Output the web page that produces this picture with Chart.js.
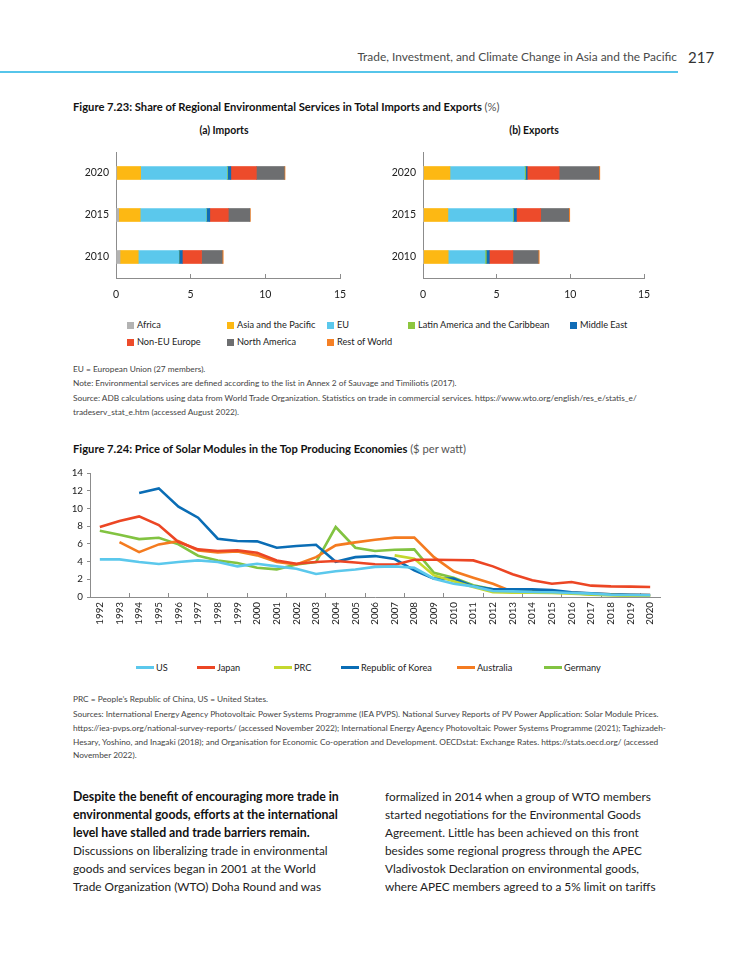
<!DOCTYPE html>
<html>
<head>
  <meta charset="UTF-8">
  <title>Trade, Investment, and Climate Change in Asia and the Pacific - page 217</title>
  <script src="https://cdn.jsdelivr.net/npm/chart.js"></script>
  <style>
    body { margin: 0; width: 750px; height: 971px; position: relative; background: #fff;
           font-family: Lato, "Open Sans", sans-serif; color: #222; overflow: hidden; }
    .abs { position: absolute; white-space: nowrap; }
    .runhead { right: 73px; top: 48px; font-size: 11.9px; color: #4a4a4a; line-height: 18px; }
    .pageno { left: 688px; top: 47px; font-size: 15px; color: #333; line-height: 20px; }
    .rule { position: absolute; left: 0; top: 71px; width: 678px; height: 2px; background: #56c5ea; }
    .figtitle { left: 73px; font-size: 11.2px; font-weight: bold; color: #111; line-height: 14px; }
    .figtitle span { font-weight: normal; color: #555; }
    .panel { font-size: 10.4px; font-weight: bold; color: #111; line-height: 12px; transform: translateX(-50%); }
    .box { position: absolute; }
    .leg { font-size: 9.2px; color: #222; line-height: 12px; }
    .leg i { display: inline-block; width: 7px; height: 7px; margin-right: 3px; vertical-align: -0.5px; }
    .leg b { display: inline-block; width: 18px; height: 2.5px; margin-right: 2px; vertical-align: 2.5px; }
    .note { left: 73px; font-size: 8.3px; color: #444; line-height: 13.8px; }
    .body { font-size: 11.8px; line-height: 18px; color: #222; }
    .body .bold { font-weight: bold; color: #111; font-size: 12.3px; }
  </style>
</head>
<body>
  <div class="abs runhead">Trade, Investment, and Climate Change in Asia and the Pacific</div>
  <div class="abs pageno">217</div>
  <div class="rule"></div>

  <!-- Figure 7.23 -->
  <div class="abs figtitle" style="top:100px">Figure 7.23: Share of Regional Environmental Services in Total Imports and Exports <span>(%)</span></div>
  <div class="abs panel" style="left:224px; top:124px">(a) Imports</div>
  <div class="abs panel" style="left:534px; top:124px">(b) Exports</div>
  <div class="box" style="left:70px; top:145px"><canvas id="chartImports" width="280" height="163"></canvas></div>
  <div class="box" style="left:377px; top:145px"><canvas id="chartExports" width="277" height="163"></canvas></div>
  <div id="barLegend"></div>

  <div class="abs note" style="top:363px">EU = European Union (27 members).</div>
  <div class="abs note" style="top:377px">Note: Environmental services are defined according to the list in Annex 2 of Sauvage and Timiliotis (2017).</div>
  <div class="abs note" style="top:392px">Source: ADB calculations using data from World Trade Organization. Statistics on trade in commercial services. https://www.wto.org/english/res_e/statis_e/<br>tradeserv_stat_e.htm (accessed August 2022).</div>

  <!-- Figure 7.24 -->
  <div class="abs figtitle" style="top:442px">Figure 7.24: Price of Solar Modules in the Top Producing Economies <span>($ per watt)</span></div>
  <div class="box" style="left:60px; top:465px"><canvas id="chartSolar" width="610" height="175"></canvas></div>
  <div id="lineLegend"></div>

  <div class="abs note" style="top:693px">PRC = People’s Republic of China, US = United States.</div>
  <div class="abs note" style="top:708px">Sources: International Energy Agency Photovoltaic Power Systems Programme (IEA PVPS). National Survey Reports of PV Power Application: Solar Module Prices.<br>https://iea-pvps.org/national-survey-reports/ (accessed November 2022); International Energy Agency Photovoltaic Power Systems Programme (2021); Taghizadeh-<br>Hesary, Yoshino, and Inagaki (2018); and Organisation for Economic Co-operation and Development. OECDstat: Exchange Rates. https://stats.oecd.org/ (accessed<br>November 2022).</div>

  <!-- body text -->
  <div class="abs body" style="left:73px; top:788px">
    <div class="bold">Despite the benefit of encouraging more trade in</div>
    <div class="bold">environmental goods, efforts at the international</div>
    <div class="bold">level have stalled and trade barriers remain.</div>
    <div>Discussions on liberalizing trade in environmental</div>
    <div>goods and services began in 2001 at the World</div>
    <div>Trade Organization (WTO) Doha Round and was</div>
  </div>
  <div class="abs body" style="left:385px; top:788px">
    <div>formalized in 2014 when a group of WTO members</div>
    <div>started negotiations for the Environmental Goods</div>
    <div>Agreement. Little has been achieved on this front</div>
    <div>besides some regional progress through the APEC</div>
    <div>Vladivostok Declaration on environmental goods,</div>
    <div>where APEC members agreed to a 5% limit on tariffs</div>
  </div>

  <script>
    // ---- Figure 7.23 data (% share), bars top to bottom
    var barYears = ["2020", "2015", "2010"];
    var regionNames = ["Africa", "Asia and the Pacific", "EU", "Latin America and the Caribbean",
                       "Middle East", "Non-EU Europe", "North America", "Rest of World"];
    var regionColors = ["#b3b3b3", "#fdb813", "#5bc8ec", "#8dc63f", "#0f6cb6", "#ed4b2b", "#6d6e70", "#f58025"];

    var impAfrica   = [0.05, 0.18, 0.27];
    var impAsia     = [1.60, 1.44, 1.22];
    var impEU       = [5.78, 4.42, 2.71];
    var impLatAm    = [0.04, 0.02, 0.02];
    var impMidEast  = [0.22, 0.22, 0.22];
    var impNonEU    = [1.71, 1.24, 1.29];
    var impNorthAm  = [1.87, 1.44, 1.38];
    var impRest     = [0.05, 0.04, 0.07];

    var expAfrica   = [0.02, 0.02, 0.02];
    var expAsia     = [1.81, 1.67, 1.69];
    var expEU       = [5.06, 4.40, 2.50];
    var expLatAm    = [0.07, 0.05, 0.09];
    var expMidEast  = [0.11, 0.20, 0.20];
    var expNonEU    = [2.17, 1.65, 1.60];
    var expNorthAm  = [2.69, 1.90, 1.72];
    var expRest     = [0.07, 0.07, 0.07];

    var barTicks = [0, 5, 10, 15];

    // ---- Figure 7.24 data ($ per watt)
    var years = ["1992","1993","1994","1995","1996","1997","1998","1999","2000","2001",
                 "2002","2003","2004","2005","2006","2007","2008","2009","2010","2011",
                 "2012","2013","2014","2015","2016","2017","2018","2019","2020"];
    var priceUS = [4.25,4.25,3.95,3.72,3.95,4.13,3.95,3.46,3.76,3.46,3.2,2.6,2.9,3.1,3.4,3.46,3.3,2.07,1.5,1.2,0.68,0.64,0.56,0.53,0.45,0.38,0.26,0.23,0.19];
    var priceJapan = [7.9,8.57,9.1,8.12,6.2,5.38,5.19,5.26,5.0,4.13,3.76,3.95,4.06,3.9,3.7,3.65,4.2,4.2,4.17,4.13,3.46,2.56,1.88,1.5,1.7,1.28,1.2,1.17,1.13];
    var pricePRC = [null,null,null,null,null,null,null,null,null,null,null,null,null,null,null,4.7,4.32,2.44,1.77,1.13,0.53,0.49,0.49,0.45,0.38,0.3,0.23,0.15,0.11];
    var priceKorea = [null,null,11.73,12.26,10.2,8.95,6.58,6.32,6.28,5.56,5.75,5.9,3.98,4.5,4.62,4.29,3.0,2.07,2.07,1.2,0.86,0.86,0.86,0.79,0.53,0.41,0.3,0.26,0.22];
    var priceAustralia = [null,6.2,5.07,5.94,6.3,5.26,5.04,5.15,4.7,3.95,3.68,4.5,5.83,6.17,6.47,6.7,6.7,4.5,2.9,2.18,1.5,0.6,0.56,0.53,0.5,0.38,0.3,0.26,0.23];
    var priceGermany = [7.48,7.03,6.54,6.69,5.94,4.66,4.13,3.83,3.3,3.12,3.68,3.95,7.9,5.56,5.19,5.34,5.38,2.74,2.18,1.32,0.86,0.75,0.68,0.56,0.45,0.26,0.19,0.15,0.11];
    var seriesNames = ["US", "Japan", "PRC", "Republic of Korea", "Australia", "Germany"];
    var seriesColors = ["#5bc8ec", "#ec4624", "#c4d82e", "#0a6db5", "#f47b20", "#82c341"];

    Chart.defaults.font.family = "Lato, 'Open Sans', sans-serif";
    Chart.defaults.color = "#222";

    var axisGray = "#8c8c8c";

    // bỏ phần đệm tự động của nhãn trục để vùng vẽ đúng kích thước
    function noPadX(h) {
      return function (s) { s.height = h; s.paddingLeft = 0; s.paddingRight = 0; };
    }
    function noPadY(w) {
      return function (s) { s.width = w; s.paddingTop = 0; s.paddingBottom = 0; };
    }

    // Tạo biểu đồ thanh chồng (imports / exports)
    function makeBarChart(id, series) {
      var datasets = series.map(function (vals, i) {
        return { label: regionNames[i], data: vals, backgroundColor: regionColors[i],
                 borderWidth: 0, barThickness: 13 };
      });
      return new Chart(document.getElementById(id), {
        type: "bar",
        data: { labels: barYears, datasets: datasets },
        options: {
          indexAxis: "y",
          responsive: false,
          animation: false,
          layout: { padding: { top: 7, right: 10 } },
          plugins: { legend: { display: false }, tooltip: { enabled: false } },
          scales: {
            x: {
              stacked: true, min: 0, max: 15,
              afterBuildTicks: function (s) { s.ticks = barTicks.map(function (v) { return { value: v }; }); },
              afterFit: noPadX(30),
              grid: { drawOnChartArea: false, tickLength: -4,
                      tickColor: function (c) { return c.index > 0 ? axisGray : "transparent"; } },
              border: { color: axisGray },
              ticks: { font: { size: 10.5 }, color: "#222", padding: 14 }
            },
            y: {
              stacked: true,
              afterFit: noPadY(46),
              grid: { drawOnChartArea: false, drawTicks: false },
              border: { color: axisGray },
              ticks: { font: { size: 10.5 }, color: "#222", padding: 7 }
            }
          }
        }
      });
    }

    makeBarChart("chartImports", [impAfrica, impAsia, impEU, impLatAm, impMidEast, impNonEU, impNorthAm, impRest]);
    makeBarChart("chartExports", [expAfrica, expAsia, expEU, expLatAm, expMidEast, expNonEU, expNorthAm, expRest]);

    // Tạo biểu đồ đường giá module mặt trời
    var priceSeries = [priceUS, priceJapan, pricePRC, priceKorea, priceAustralia, priceGermany];
    new Chart(document.getElementById("chartSolar"), {
      type: "line",
      data: {
        labels: years,
        datasets: priceSeries.map(function (vals, i) {
          return { label: seriesNames[i], data: vals, borderColor: seriesColors[i],
                   borderWidth: 2.6, pointRadius: 0, tension: 0, fill: false };
        })
      },
      options: {
        responsive: false,
        animation: false,
        layout: { padding: { top: 8, right: 10 } },
        plugins: { legend: { display: false }, tooltip: { enabled: false } },
        scales: {
          x: {
            offset: true,
            afterFit: noPadX(43),
            grid: { offset: true, drawOnChartArea: false, tickLength: -4,
                    tickColor: function (c) { return (c.index > 0 && c.index % 2 === 0) ? axisGray : "transparent"; } },
            border: { color: axisGray },
            ticks: { autoSkip: false, minRotation: 90, maxRotation: 90, font: { size: 9.8 }, color: "#222", padding: 9 }
          },
          y: {
            min: 0, max: 14,
            ticks: { stepSize: 2, font: { size: 9.8 }, color: "#222", padding: 4 },
            afterFit: noPadY(30),
            grid: { drawOnChartArea: false, tickLength: 3, tickColor: axisGray },
            border: { color: axisGray }
          }
        }
      }
    });

    // Chú thích (legend) dạng HTML
    var barLegendPos = [[127, 325], [227, 325], [327, 325], [408, 325], [570, 325],
                        [127, 342], [227, 342], [327, 342]];
    var html = "";
    regionNames.forEach(function (name, i) {
      html += '<div class="abs leg" style="left:' + barLegendPos[i][0] + 'px; top:' + (barLegendPos[i][1] - 6) + 'px">' +
              '<i style="background:' + regionColors[i] + '"></i>' + name + '</div>';
    });
    document.getElementById("barLegend").innerHTML = html;

    var lineLegendX = [136, 197, 274, 341, 457, 544];
    html = "";
    seriesNames.forEach(function (name, i) {
      html += '<div class="abs leg" style="left:' + lineLegendX[i] + 'px; top:662px">' +
              '<b style="background:' + seriesColors[i] + '"></b>' + name + '</div>';
    });
    document.getElementById("lineLegend").innerHTML = html;
  </script>
</body>
</html>
